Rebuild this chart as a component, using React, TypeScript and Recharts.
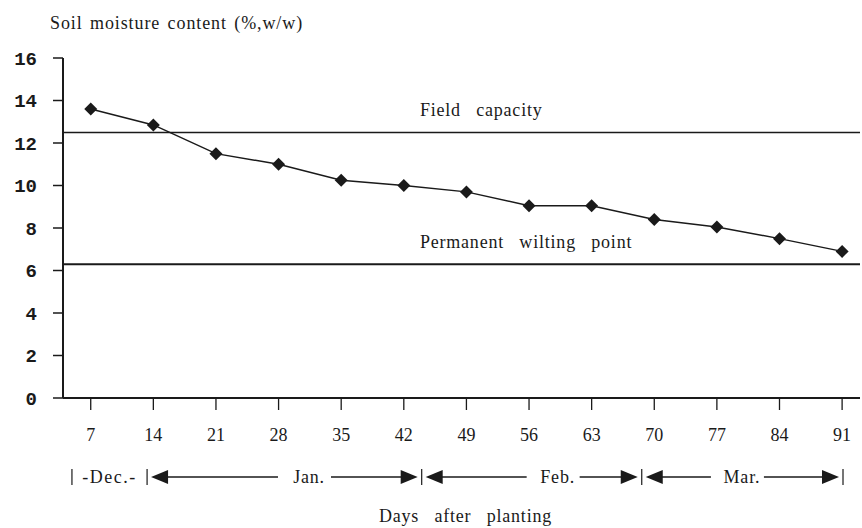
import React from "react";
import {
  LineChart,
  Line,
  XAxis,
  YAxis,
  ReferenceLine,
  Customized,
} from "recharts";

// Days after planting and measured soil moisture (%, w/w)
const DAYS = [7, 14, 21, 28, 35, 42, 49, 56, 63, 70, 77, 84, 91];
const MOISTURE = [13.6, 12.85, 11.5, 11.0, 10.25, 10.0, 9.7, 9.05, 9.05, 8.4, 8.05, 7.5, 6.9];
const Y_TICKS = [0, 2, 4, 6, 8, 10, 12, 14, 16];

const FIELD_CAPACITY = 12.5;
const WILTING_POINT = 6.3;

// month bands under the x axis (in days)
const MONTHS = ["Dec.", "Jan.", "Feb.", "Mar."];
const MONTH_BOUNDS = [4.9, 13.3, 44, 68.6, 91.1];
const MONTH_LABEL_AT = [9.1, 31.4, 59.2, 79.8];

const X_DOMAIN: [number, number] = [3.9, 93];

const W = 862;
const H = 528;
const MARGIN = { top: 58, right: 2, left: 0, bottom: 0 };
const Y_AXIS_W = 63;
const X_AXIS_H = 130;
const PLOT_LEFT = MARGIN.left + Y_AXIS_W;
const PLOT_W = W - PLOT_LEFT - MARGIN.right;

const SERIF = "'Liberation Serif', 'DejaVu Serif', serif";
const MONO = "'Liberation Mono', 'DejaVu Sans Mono', monospace";
const INK = "#1a1a1a";

const chartData = DAYS.map((d, i) => ({ day: d, moisture: MOISTURE[i] }));

// day -> pixel, same linear mapping as the x axis
const px = (day: number) =>
  PLOT_LEFT + ((day - X_DOMAIN[0]) / (X_DOMAIN[1] - X_DOMAIN[0])) * PLOT_W;

const Diamond = (props: any) => {
  const { cx, cy, index } = props;
  const r = 6.5;
  return (
    <polygon
      key={`d-${index}`}
      points={`${cx},${cy - r} ${cx + r},${cy} ${cx},${cy + r} ${cx - r},${cy}`}
      fill={INK}
    />
  );
};

const textStyle = { letterSpacing: "0.8px", wordSpacing: "10px" };

const RefLabel = (props: any) => {
  const { viewBox, text } = props;
  if (!viewBox) return null;
  return (
    <text
      x={px(43.8)}
      y={viewBox.y - 16}
      fontFamily={SERIF}
      fontSize={18}
      fill={INK}
      style={textStyle}
    >
      {text}
    </text>
  );
};

const arrowLeft = (tip: number, y: number) =>
  `${tip},${y} ${tip + 17},${y - 7} ${tip + 17},${y + 7}`;
const arrowRight = (tip: number, y: number) =>
  `${tip},${y} ${tip - 17},${y - 7} ${tip - 17},${y + 7}`;

const MonthRow = () => {
  const y = 477;
  return (
    <g>
      {MONTH_BOUNDS.map((b, i) => (
        <line
          key={`bar-${i}`}
          x1={px(b)}
          x2={px(b)}
          y1={y - 8}
          y2={y + 8}
          stroke={INK}
          strokeWidth={1.2}
        />
      ))}
      {MONTHS.map((m, i) => {
        const x0 = px(MONTH_BOUNDS[i]);
        const x1 = px(MONTH_BOUNDS[i + 1]);
        const lx = px(MONTH_LABEL_AT[i]);
        if (i === 0) {
          return (
            <text
              key={m}
              x={lx}
              y={y + 6}
              textAnchor="middle"
              fontFamily={SERIF}
              fontSize={18}
              fill={INK}
              style={{ letterSpacing: "1.5px" }}
            >
              {`-${m}-`}
            </text>
          );
        }
        return (
          <g key={m}>
            <line x1={x0 + 10} x2={lx - 31} y1={y} y2={y} stroke={INK} strokeWidth={1.5} />
            <line x1={lx + 22} x2={x1 - 10} y1={y} y2={y} stroke={INK} strokeWidth={1.5} />
            <polygon points={arrowLeft(x0 + 4, y)} fill={INK} />
            <polygon points={arrowRight(x1 - 4, y)} fill={INK} />
            <text
              x={lx}
              y={y + 6}
              textAnchor="middle"
              fontFamily={SERIF}
              fontSize={18}
              fill={INK}
              style={{ letterSpacing: "0.8px" }}
            >
              {m}
            </text>
          </g>
        );
      })}
      <text
        x={PLOT_LEFT + PLOT_W / 2 + 4}
        y={522}
        textAnchor="middle"
        fontFamily={SERIF}
        fontSize={18}
        fill={INK}
        style={textStyle}
      >
        Days after planting
      </text>
      <text
        x={50}
        y={29}
        fontFamily={SERIF}
        fontSize={18}
        fill={INK}
        style={{ letterSpacing: "0.9px", wordSpacing: "2px" }}
      >
        Soil moisture content (%,w/w)
      </text>
    </g>
  );
};

export default function App() {
  return (
    <div style={{ position: "absolute", left: 0, top: 0, width: W, height: H, background: "#fff" }}>
      <LineChart width={W} height={H} data={chartData} margin={MARGIN}>
        <XAxis
          dataKey="day"
          type="number"
          domain={X_DOMAIN}
          ticks={DAYS}
          height={X_AXIS_H}
          tickSize={12}
          tickMargin={18}
          stroke={INK}
          axisLine={{ stroke: INK, strokeWidth: 2 }}
          tickLine={{ stroke: INK, strokeWidth: 1.3 }}
          tick={{ fontFamily: SERIF, fontSize: 18, fill: INK }}
          allowDataOverflow
        />
        <YAxis
          type="number"
          domain={[0, 16]}
          ticks={Y_TICKS}
          width={Y_AXIS_W}
          tickSize={10}
          tickMargin={16}
          axisLine={{ stroke: INK, strokeWidth: 2 }}
          tickLine={{ stroke: INK, strokeWidth: 1.5 }}
          tick={{ fontFamily: MONO, fontSize: 19, fontWeight: 700, fill: INK }}
        />
        <ReferenceLine
          y={FIELD_CAPACITY}
          stroke={INK}
          strokeWidth={1.5}
          label={<RefLabel text="Field capacity" />}
        />
        <ReferenceLine
          y={WILTING_POINT}
          stroke={INK}
          strokeWidth={2}
          label={<RefLabel text="Permanent wilting point" />}
        />
        <Line
          type="linear"
          dataKey="moisture"
          stroke={INK}
          strokeWidth={1.5}
          dot={Diamond}
          activeDot={false}
          isAnimationActive={false}
        />
        <Customized component={MonthRow} />
      </LineChart>
    </div>
  );
}
